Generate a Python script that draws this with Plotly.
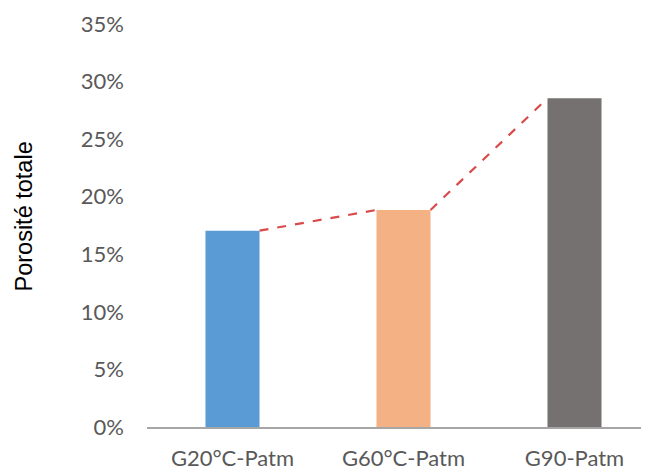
import plotly.graph_objects as go

categories = ["G20°C-Patm", "G60°C-Patm", "G90-Patm"]
porosite = [0.1705, 0.1885, 0.2855]
bar_colors = ["#5B9BD5", "#F4B183", "#767171"]
y_ticks = [0, 0.05, 0.10, 0.15, 0.20, 0.25, 0.30, 0.35]
y_title = "Porosité totale"

bar_width = 0.316
xpos = list(range(len(categories)))

# series lines: from the top-right corner of one bar to the top-left corner of the next
line_x, line_y = [], []
for i in range(len(categories) - 1):
    line_x += [xpos[i] + bar_width / 2, xpos[i + 1] - bar_width / 2, None]
    line_y += [porosite[i], porosite[i + 1], None]

# the page body has an 8px default margin, so the figure is sized to fit the window
OFF = 8
W, H = 649 - OFF, 468 - OFF
L, R, T, B = 147 - OFF, 0, 24 - OFF, 468 - 427

fig = go.Figure()
fig.add_trace(go.Bar(
    x=xpos, y=porosite, width=bar_width,
    marker=dict(color=bar_colors, line=dict(width=0)),
    showlegend=False, hoverinfo="skip",
))
fig.add_trace(go.Scatter(
    x=line_x, y=line_y, mode="lines",
    line=dict(color="#D94A4A", width=2.2, dash="dash"),
    showlegend=False, hoverinfo="skip", connectgaps=False,
))

fig.update_layout(
    width=W, height=H,
    margin=dict(l=L, r=R, t=T, b=B, autoexpand=False),
    paper_bgcolor="white", plot_bgcolor="white",
    font=dict(family="Lato, Open Sans, sans-serif", color="#595959"),
)
plot_w = W - L - R
plot_h = H - T - B
fig.update_xaxes(
    range=[-0.5, -0.5 + plot_w / 171],
    tickmode="array", tickvals=xpos, ticktext=categories,
    tickfont=dict(size=22, color="#595959", family="Lato, sans-serif"),
    showgrid=False, zeroline=False, automargin=False,
    showline=True, linecolor="#A6A6A6", linewidth=1.5,
    ticks="", ticklabelstandoff=11,
)
fig.update_yaxes(
    range=[0, 0.35],
    tickmode="array", tickvals=y_ticks,
    ticktext=[f"{int(round(v * 100))}%" for v in y_ticks],
    tickfont=dict(size=22, color="#595959", family="Lato, sans-serif"),
    showgrid=False, zeroline=False, showline=False, automargin=False,
    ticks="", ticklabelstandoff=22,
)
fig.add_annotation(
    text=y_title, textangle=-90, showarrow=False,
    xref="paper", yref="paper",
    x=(23 - OFF - L) / plot_w, y=(H - B - (216.5 - OFF)) / plot_h,
    xanchor="center", yanchor="middle",
    font=dict(size=23.5, color="#000000", family="Liberation Sans, Arial, sans-serif"),
)

fig.write_html("out.html")
